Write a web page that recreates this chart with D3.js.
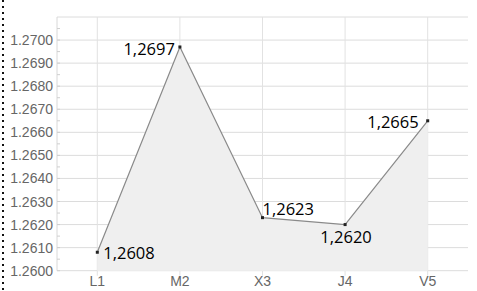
<!DOCTYPE html>
<html><head><meta charset="utf-8">
<script src="https://cdn.jsdelivr.net/npm/d3@7"></script>
<style>html,body{margin:0;padding:0;background:#fff;}svg{display:block;}</style>
</head><body>
<script>
const categories = ["L1", "M2", "X3", "J4", "V5"];
const values = [1.2608, 1.2697, 1.2623, 1.2620, 1.2665];
const yTicks = [1.2600, 1.2610, 1.2620, 1.2630, 1.2640, 1.2650, 1.2660, 1.2670, 1.2680, 1.2690, 1.2700];
const yMax = 1.2710;

const W = 477, H = 291;
const svg = d3.select("body").append("svg").attr("width", W).attr("height", H);

const x = d3.scaleBand().domain(categories).range([56, 469]);
const cx = c => x(c) + x.bandwidth() / 2;
const y = d3.scaleLinear().domain([1.2600, yMax]).range([270.7, 17]);
const left = 57, right = 468;

// dotted left border
svg.append("line").attr("x1", 3).attr("x2", 3).attr("y1", 0).attr("y2", H)
  .attr("stroke", "#111").attr("stroke-width", 2).attr("stroke-dasharray", "2,4");

// horizontal gridlines
const gridVals = yTicks.concat([yMax]);
svg.append("g").selectAll("line").data(gridVals).join("line")
  .attr("x1", left).attr("x2", right)
  .attr("y1", d => y(d)).attr("y2", d => y(d))
  .attr("stroke", "#dcdcdc").attr("stroke-width", 1);

// vertical gridlines
svg.append("g").selectAll("line").data(categories).join("line")
  .attr("x1", d => cx(d)).attr("x2", d => cx(d))
  .attr("y1", y(yMax)).attr("y2", y(1.26) + 5)
  .attr("stroke", "#e2e2e2").attr("stroke-width", 1);

// left axis line with minor ticks
svg.append("line").attr("x1", left).attr("x2", left).attr("y1", y(yMax)).attr("y2", y(1.26))
  .attr("stroke", "#d8d8d8");
const minor = d3.range(0, 22).map(i => 1.26 + i * 0.0005);
svg.append("g").selectAll("line").data(minor).join("line")
  .attr("x1", left).attr("x2", left + 3)
  .attr("y1", d => y(d)).attr("y2", d => y(d))
  .attr("stroke", "#cfcfcf");

// area + line
const pts = categories.map((c, i) => ({c, v: values[i]}));
svg.append("path").datum(pts)
  .attr("d", d3.area().x(d => cx(d.c)).y0(y(1.26)).y1(d => y(d.v)))
  .attr("fill", "#efefef");
svg.append("path").datum(pts)
  .attr("d", d3.line().x(d => cx(d.c)).y(d => y(d.v)))
  .attr("fill", "none").attr("stroke", "#8a8a8a").attr("stroke-width", 1.2);

// points
svg.append("g").selectAll("rect").data(pts).join("rect")
  .attr("x", d => cx(d.c) - 1.5).attr("y", d => y(d.v) - 1.5)
  .attr("width", 3).attr("height", 3).attr("fill", "#222");

// y-axis labels
svg.append("g").selectAll("text").data(yTicks).join("text")
  .attr("x", 53).attr("y", d => y(d) + 5)
  .attr("text-anchor", "end")
  .attr("font-family", "Liberation Sans, Arial, sans-serif").attr("font-size", 14)
  .attr("fill", "#666").text(d => d.toFixed(4));

// x-axis labels
svg.append("g").selectAll("text").data(categories).join("text")
  .attr("x", d => cx(d)).attr("y", 286)
  .attr("text-anchor", "middle")
  .attr("font-family", "Liberation Sans, Arial, sans-serif").attr("font-size", 14)
  .attr("fill", "#666").text(d => d);

// value labels
const place = [
  {dx: 6, dy: 7, anchor: "start"},
  {dx: -5, dy: 8, anchor: "end"},
  {dx: 0, dy: -3, anchor: "start"},
  {dx: 1, dy: 18, anchor: "middle"},
  {dx: -9, dy: 7, anchor: "end"}
];
svg.append("g").selectAll("text").data(pts).join("text")
  .attr("x", (d, i) => cx(d.c) + place[i].dx)
  .attr("y", (d, i) => y(d.v) + place[i].dy)
  .attr("text-anchor", (d, i) => place[i].anchor)
  .attr("font-family", "Open Sans, Noto Sans, sans-serif").attr("font-size", 16.5)
  .attr("fill", "#000").text(d => d.v.toFixed(4).replace(".", ","));
</script>
</body></html>
